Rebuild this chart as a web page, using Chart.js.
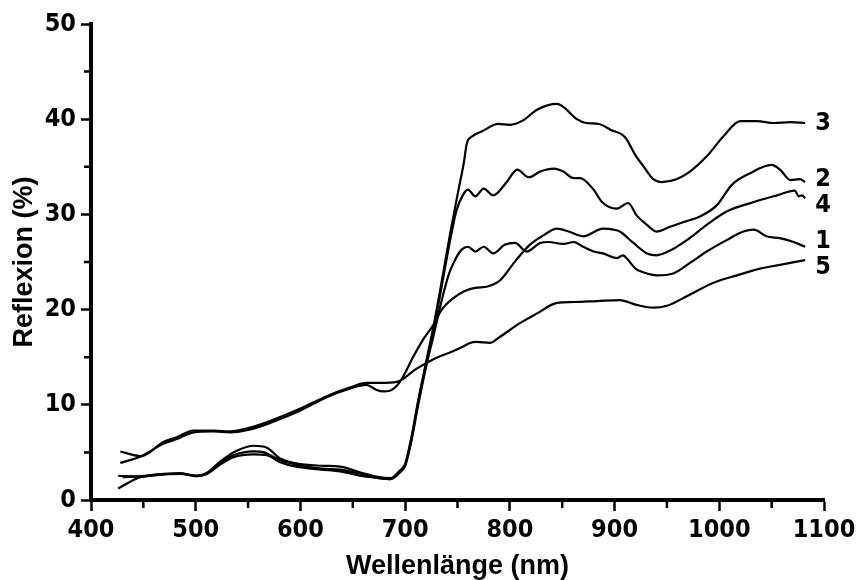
<!DOCTYPE html>
<html>
<head>
<meta charset="utf-8">
<title>Reflexion</title>
<script src="https://cdn.jsdelivr.net/npm/chart.js@4.4.1/dist/chart.umd.min.js"></script>
<style>
    html, body { margin: 0; padding: 0; background: #fff; }
    #wrap { width: 857px; height: 580px; }
</style>
</head>
<body>
<div id="wrap"><canvas id="reflexionChart"></canvas></div>
<script>
// Kurvennamen (Beschriftung am rechten Rand)
const curveNames = ['1', '2', '3', '4', '5'];

// Wellenlängen (nm) und Reflexion (%) je Kurve
const wl1 = [426, 447, 469, 485, 501, 510, 523, 536, 555, 568, 580, 596, 620, 638, 660, 675, 686, 695, 700, 706, 712, 720, 727, 735, 742, 748, 754, 760, 767, 775, 784, 795, 805, 816, 829, 837, 851, 861, 870, 880, 889, 902, 908, 913, 920, 928, 940, 956, 972, 988, 1007, 1023, 1033, 1045, 1058, 1071, 1082];
const refl1 = [2.55, 2.45, 2.7, 2.8, 2.5, 2.7, 3.7, 4.5, 4.8, 4.7, 4.0, 3.5, 3.2, 3.0, 2.5, 2.3, 2.2, 2.9, 3.6, 6.2, 9.7, 14.0, 17.2, 21.0, 23.8, 25.3, 26.3, 26.6, 26.1, 26.6, 25.9, 26.8, 27.0, 26.1, 27.0, 27.1, 26.9, 27.1, 26.6, 26.1, 25.9, 25.4, 25.7, 25.2, 24.3, 23.9, 23.6, 23.8, 24.9, 26.1, 27.3, 28.2, 28.4, 27.7, 27.5, 27.1, 26.6];

const wl2 = [426, 437, 447, 469, 485, 501, 510, 523, 536, 555, 565, 580, 596, 620, 638, 660, 675, 686, 695, 700, 706, 712, 720, 727, 735, 743, 749, 755, 760, 767, 775, 784, 797, 807, 818, 829, 842, 851, 861, 867, 880, 888, 902, 913, 921, 931, 940, 953, 966, 982, 998, 1012, 1029, 1050, 1058, 1068, 1077, 1082];
const refl2 = [1.2, 1.9, 2.4, 2.7, 2.75, 2.5, 2.8, 3.9, 4.7, 5.1, 5.0, 4.2, 3.7, 3.3, 3.2, 2.7, 2.3, 2.2, 3.0, 3.6, 6.4, 10.0, 14.2, 17.8, 22.5, 27.3, 30.4, 32.0, 32.6, 31.9, 32.7, 32.0, 33.4, 34.7, 33.9, 34.5, 34.8, 34.5, 33.8, 33.8, 32.6, 31.3, 30.6, 31.2, 29.9, 28.9, 28.2, 28.7, 29.2, 29.8, 31.0, 33.1, 34.3, 35.2, 34.7, 33.6, 33.7, 33.4];

const wl3 = [430, 447, 469, 485, 501, 510, 523, 536, 555, 568, 580, 596, 620, 638, 660, 675, 686, 695, 700, 706, 712, 720, 727, 735, 743, 751, 756, 759, 764, 773, 789, 800, 813, 826, 845, 851, 864, 873, 885, 896, 910, 920, 928, 937, 945, 959, 972, 988, 1004, 1020, 1036, 1052, 1068, 1082];
const refl3 = [2.4, 2.5, 2.75, 2.8, 2.55, 2.8, 4.0, 5.0, 5.7, 5.5, 4.4, 3.85, 3.6, 3.5, 2.8, 2.4, 2.3, 3.1, 3.8, 6.6, 10.2, 14.5, 18.2, 23.0, 28.0, 32.6, 35.4, 37.5, 38.2, 38.7, 39.5, 39.4, 39.9, 41.0, 41.6, 41.3, 40.0, 39.6, 39.5, 38.9, 38.1, 36.2, 35.0, 33.7, 33.4, 33.7, 34.5, 36.1, 38.2, 39.8, 39.8, 39.6, 39.7, 39.6];

const wl4 = [428, 448, 469, 482, 498, 517, 533, 552, 571, 600, 625, 647, 663, 672, 679, 686, 695, 708, 718, 727, 735, 746, 756, 768, 778, 787, 791, 806, 819, 832, 845, 856, 870, 889, 899, 905, 918, 931, 940, 953, 969, 988, 1007, 1033, 1055, 1072, 1076, 1079, 1082];
const refl4 = [3.9, 4.6, 5.9, 6.4, 7.1, 7.2, 7.1, 7.4, 8.1, 9.4, 10.8, 11.7, 12.1, 11.6, 11.4, 11.5, 12.4, 15.1, 17.0, 18.4, 20.0, 21.2, 21.9, 22.3, 22.4, 22.8, 23.1, 25.2, 26.8, 27.8, 28.5, 28.2, 27.7, 28.5, 28.4, 28.2, 27.0, 25.9, 25.7, 26.2, 27.3, 28.9, 30.3, 31.3, 32.0, 32.5, 31.9, 32.0, 31.7];

const wl5 = [428, 448, 469, 482, 498, 517, 533, 552, 571, 600, 625, 647, 663, 676, 692, 711, 729, 745, 755, 762, 768, 781, 790, 810, 826, 845, 861, 883, 905, 921, 937, 950, 969, 994, 1017, 1039, 1058, 1082];
const refl5 = [5.1, 4.6, 6.1, 6.6, 7.3, 7.3, 7.2, 7.6, 8.3, 9.6, 10.9, 11.8, 12.3, 12.3, 12.4, 13.8, 14.9, 15.6, 16.1, 16.5, 16.6, 16.5, 17.1, 18.6, 19.6, 20.7, 20.8, 20.9, 21.0, 20.5, 20.2, 20.4, 21.4, 22.8, 23.6, 24.3, 24.7, 25.2];

const wavelengths = [wl1, wl2, wl3, wl4, wl5];
const reflexion = [refl1, refl2, refl3, refl4, refl5];

const tickFont = { family: "'Liberation Sans Narrow', 'DejaVu Sans Condensed', sans-serif", size: 25, weight: 'bold' };
const titleFont = { family: "'Liberation Sans', Arial, sans-serif", size: 27, weight: 'bold', lineHeight: 1 };

// Kleine Zwischenstriche und Kurvennummern
const axisExtras = {
    id: 'axisExtras',
    afterDraw(chart, args, opts) {
        const { ctx, chartArea, scales: { x, y } } = chart;
        ctx.save();
        ctx.strokeStyle = '#000';
        ctx.lineWidth = 2.5;
        ctx.beginPath();
        for (let v = 450; v < 1100; v += 100) {
            const px = x.getPixelForValue(v);
            ctx.moveTo(px, chartArea.bottom + 2);
            ctx.lineTo(px, chartArea.bottom + 8);
        }
        for (let v = 5; v < 50; v += 10) {
            const py = y.getPixelForValue(v);
            ctx.moveTo(chartArea.left - 2, py);
            ctx.lineTo(chartArea.left - 7, py);
        }
        ctx.stroke();

        ctx.fillStyle = '#000';
        ctx.font = 'bold 25px ' + tickFont.family;
        ctx.textAlign = 'center';
        ctx.textBaseline = 'middle';
        chart.data.datasets.forEach((ds, i) => {
            const last = ds.data[ds.data.length - 1];
            const px = x.getPixelForValue(last.x) + 18;
            const py = y.getPixelForValue(last.y) + opts.offsets[i];
            ctx.fillText(ds.label, px, py);
        });
        ctx.restore();
    }
};

const datasets = curveNames.map((name, i) => ({
    label: name,
    data: wavelengths[i].map((w, j) => ({ x: w, y: reflexion[i][j] })),
    borderColor: '#000',
    borderWidth: 2.2,
    pointRadius: 0,
    fill: false,
    cubicInterpolationMode: 'monotone'
}));

new Chart(document.getElementById('reflexionChart'), {
    type: 'line',
    data: { datasets: datasets },
    options: {
        responsive: true,
        maintainAspectRatio: false,
        animation: false,
        layout: { padding: { left: 0, right: 33, top: 24, bottom: 0 } },
        plugins: {
            legend: { display: false },
            tooltip: { enabled: false },
            axisExtras: { offsets: [-5, -3, 0, 7, 7] }
        },
        scales: {
            x: {
                type: 'linear',
                min: 400,
                max: 1100,
                afterFit: (scale) => { scale.height = 80; scale.paddingRight = 0; scale.paddingLeft = 0; },
                ticks: { stepSize: 100, color: '#000', font: tickFont, padding: 4, maxRotation: 0, callback: (v) => String(v) },
                grid: { drawOnChartArea: false, drawTicks: true, tickLength: 11, tickWidth: 2.5, tickColor: '#000' },
                border: { display: true, color: '#000', width: 4 },
                title: { display: true, text: 'Wellenlänge (nm)', color: '#000', font: titleFont, padding: 0 }
            },
            y: {
                type: 'linear',
                min: 0,
                max: 50,
                afterFit: (scale) => { scale.width = 91; },
                ticks: { stepSize: 10, color: '#000', font: tickFont, padding: 5, callback: (v) => String(v) },
                grid: { drawOnChartArea: false, drawTicks: true, tickLength: 10, tickWidth: 2.5, tickColor: '#000' },
                border: { display: true, color: '#000', width: 4 },
                title: { display: true, text: 'Reflexion (%)', color: '#000', font: titleFont, padding: { top: 11, bottom: 0 } }
            }
        }
    },
    plugins: [axisExtras]
});
</script>
</body>
</html>
